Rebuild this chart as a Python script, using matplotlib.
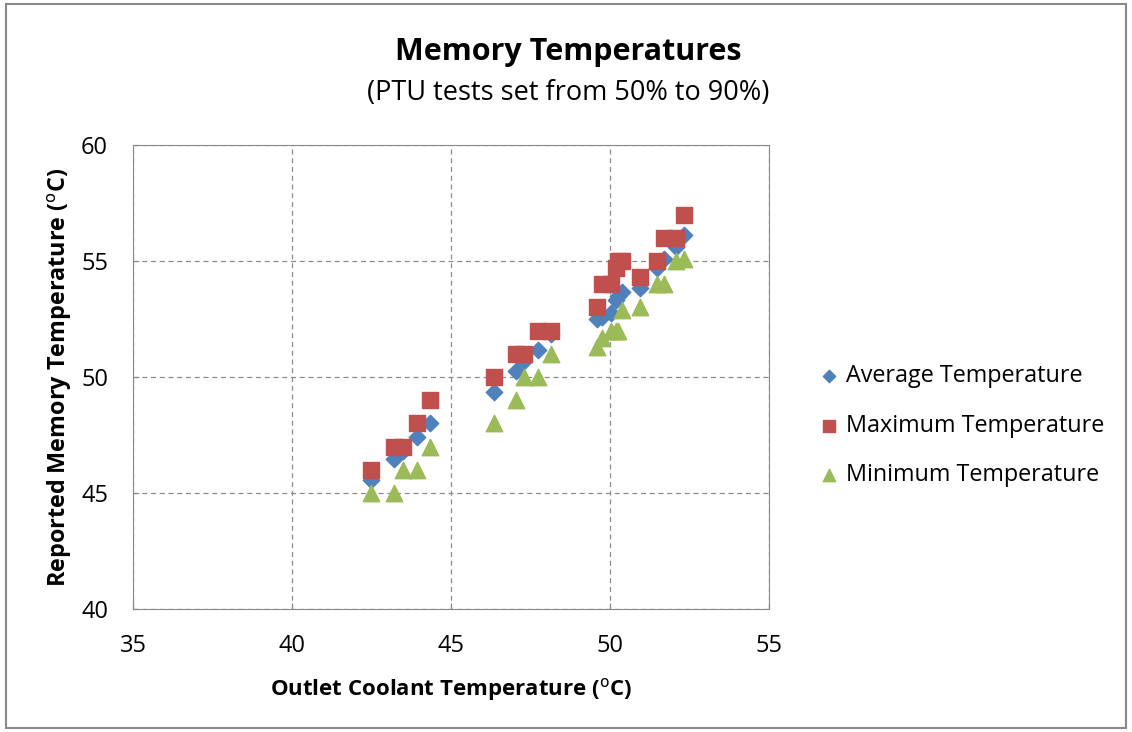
import matplotlib.pyplot as plt
from matplotlib.patches import Rectangle

# outlet coolant temperature (deg C)
outlet = [42.5, 43.2, 43.5, 43.95, 44.35,
          46.35, 47.05, 47.3, 47.75, 48.15,
          49.6, 49.75, 50.05, 50.2, 50.25, 50.4, 50.95, 51.5, 51.7, 52.1, 52.35]

avg_temp = [45.55, 46.45, 46.8, 47.4, 48.0,
            49.35, 50.25, 50.7, 51.15, 51.85,
            52.5, 52.6, 52.75, 53.3, 53.5, 53.65, 53.85, 54.7, 55.1, 55.6, 56.1]

max_temp = [46, 47, 47, 48, 49,
            50, 51, 51, 52, 52,
            53, 54, 54, 54.7, 55, 55, 54.3, 55, 56, 56, 57]

min_temp = [45, 45, 46, 46, 47,
            48, 49, 50, 50, 51,
            51.3, 51.7, 52, 52, 52, 52.9, 53, 54, 54, 55, 55.1]

x_ticks = [35, 40, 45, 50, 55]
y_ticks = [40, 45, 50, 55, 60]

plt.rcParams['font.family'] = ['Open Sans', 'DejaVu Sans']

fig = plt.figure(figsize=(11.32, 7.32), dpi=100)
fig.patches.append(Rectangle((0.005, 0.006), 0.99, 0.988, transform=fig.transFigure,
                             fill=False, edgecolor='#898989', linewidth=1.5))

ax = fig.add_axes([0.1175, 0.168, 0.5615, 0.634])

ax.scatter(outlet, avg_temp, marker='D', s=70, color='#4F81BD', label='Average Temperature', zorder=3)
ax.scatter(outlet, max_temp, marker='s', s=125, color='#C0504D', label='Maximum Temperature', zorder=3)
ax.scatter(outlet, min_temp, marker='^', s=140, color='#9BBB59', label='Minimum Temperature', zorder=3)

ax.set_xlim(35, 55)
ax.set_ylim(40, 60)
ax.set_xticks(x_ticks)
ax.set_yticks(y_ticks)
ax.grid(True, linestyle=(0, (4, 3)), color='#8c8c8c', linewidth=0.9)
ax.tick_params(direction='in', labelsize=17, length=4, color='#888888', pad=18)
for s in ax.spines.values():
    s.set_color('#888888')

ax.set_xlabel('Outlet Coolant Temperature ($^{\\rm o}$C)', fontsize=16, fontweight='bold', labelpad=13)
ax.set_ylabel('Reported Memory Temperature ($^{\\rm o}$C)', fontsize=16.8, fontweight='bold', labelpad=5)

fig.text(0.502, 0.929, 'Memory Temperatures', ha='center', va='center', fontsize=22, fontweight='bold')
fig.text(0.502, 0.873, '(PTU tests set from 50% to 90%)', ha='center', va='center', fontsize=19.5)

ax.legend(loc='center left', bbox_to_anchor=(1.044, 0.395), frameon=False, fontsize=16.8,
          labelspacing=1.1, handlelength=1.0, handletextpad=0.2, markerscale=0.75)

fig.savefig('out.png', dpi=100)
